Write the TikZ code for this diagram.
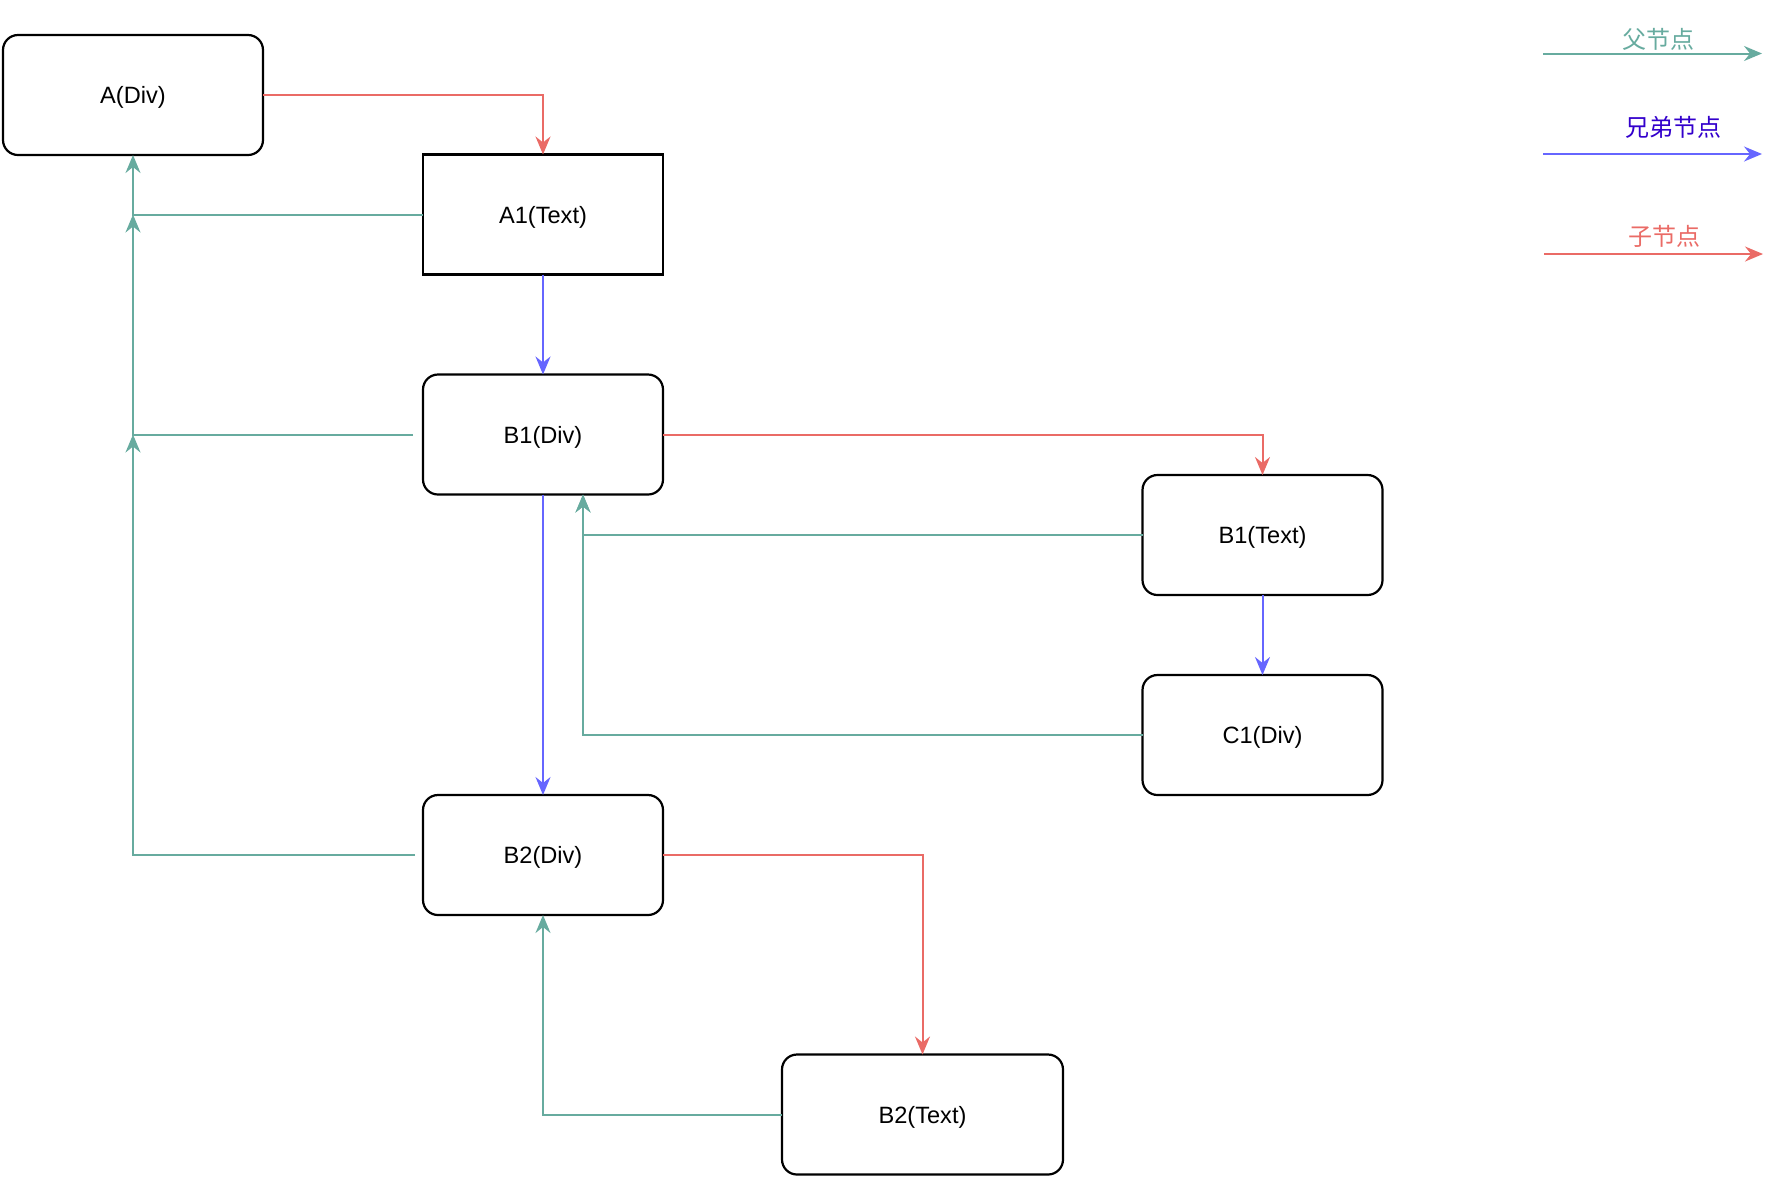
\documentclass[tikz,border=0pt]{standalone}
\usepackage{fontspec}
\setmainfont{Liberation Sans}
\newfontfamily\cjk{Noto Sans CJK SC}
\usetikzlibrary{arrows.meta,calc}
\definecolor{pgreen}{HTML}{67AB9F}
\definecolor{pblue}{HTML}{6666FF}
\definecolor{pred}{HTML}{EA6B66}
\definecolor{ptext}{HTML}{3300CC}
\begin{document}
\begin{tikzpicture}[x=0.5pt,y=-0.5pt,
  box/.style={draw=black,line width=1.1pt,rounded corners=7.5pt,minimum width=120pt,minimum height=60pt,inner sep=0pt,outer sep=0pt,text depth=0pt,font=\fontsize{11.8}{14}\selectfont},
  sqbox/.style={box,rounded corners=0pt},
  conn/.style={line width=1pt,-{Stealth[length=9pt,width=7.5pt,inset=3pt]}},
  parent/.style={conn,draw=pgreen},
  sibling/.style={conn,draw=pblue},
  child/.style={conn,draw=pred},
  lbl/.style={font=\cjk\fontsize{12}{14}\selectfont,inner sep=0pt}
]
\useasboundingbox (0,0) rectangle (1786,1190);
% nodes
\node[box,minimum width=130pt] (A) at (133,95) {A(Div)};
\node[sqbox] (A1) at (543,214.5) {A1(Text)};
\node[box] (B1) at (543,434.5) {B1(Div)};
\node[box] (B1T) at (1262.5,535) {B1(Text)};
\node[box] (C1) at (1262.5,735) {C1(Div)};
\node[box] (B2) at (543,855) {B2(Div)};
\node[box,minimum width=140.5pt] (B2T) at (922.5,1114.5) {B2(Text)};
% helper coordinates
\coordinate (b1in) at ($(B1.south)+(40,0)$);
% child connectors
\draw[child] (A.east) -| (A1.north);
\draw[child] (B1.east) -| (B1T.north);
\draw[child] (B2.east) -| (B2T.north);
% sibling connectors
\draw[sibling] (A1.south) -- (B1.north);
\draw[sibling] (B1.south) -- (B2.north);
\draw[sibling] (B1T.south) -- (C1.north);
% parent connectors
\draw[parent] (A1.west) -| (A.south);
\draw[parent,shorten <=5pt] (B1.west) -| (A1.west -| A.south);
\draw[parent,shorten <=4pt] (B2.west) -| (B1.west -| A.south);
\draw[parent] (B1T.west) -| (b1in);
\draw[parent] (C1.west) -| (b1in);
\draw[parent] (B2T.west) -| (B2.south);
% legend
\coordinate (g1) at (1543,53.5);
\coordinate (g2) at (1762,53.5);
\coordinate (s1) at (1543,154);
\coordinate (s2) at (1762,154);
\coordinate (c1) at (1544,254);
\coordinate (c2) at (1763,254);
\draw[parent] (g1) -- (g2);
\draw[sibling] (s1) -- (s2);
\draw[child] (c1) -- (c2);
\node[lbl,text=pgreen] (lg) at (1658,39) {父节点};
\node[lbl,text=ptext] (ls) at (1673,127) {兄弟节点};
\node[lbl,text=pred] (lc) at (1664,236) {子节点};
\end{tikzpicture}
\end{document}
